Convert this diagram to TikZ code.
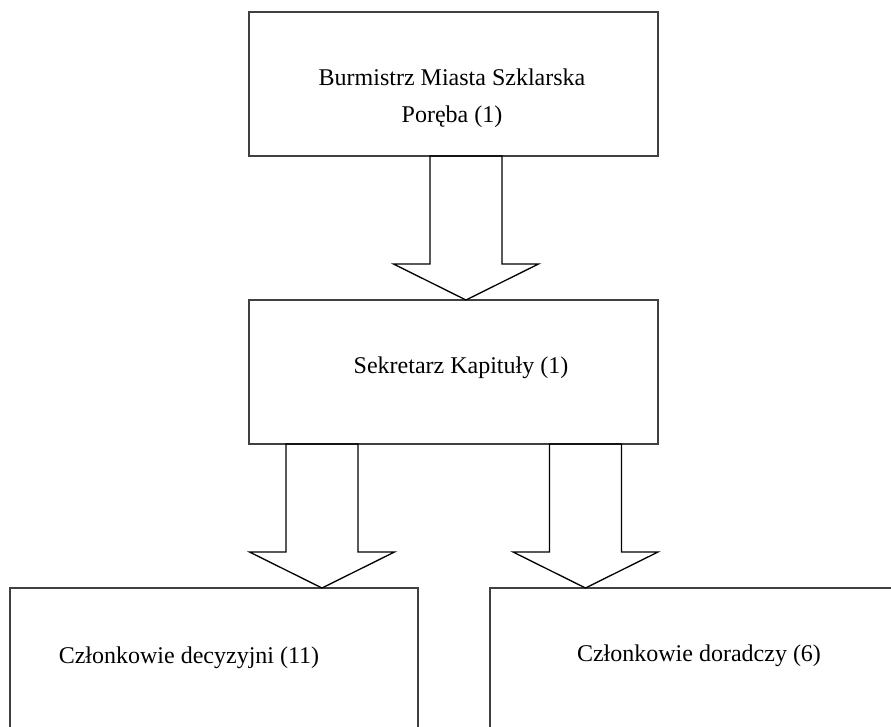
\documentclass[tikz,border=0pt]{standalone}
\usepackage{fontspec}
\setmainfont{Liberation Serif}
\usetikzlibrary{positioning, calc}
\definecolor{kapline}{HTML}{404040}
\tikzset{
  box/.style={rectangle, draw=kapline, line width=1.3pt, minimum width=409pt,
    minimum height=144pt, inner sep=0pt, outer sep=0pt},
  lowbox/.style={box, minimum width=408pt, minimum height=200pt},
  txt/.style={font=\fontsize{24}{37}\selectfont, align=center, inner sep=0pt},
  fatarr/.style={draw=black, line width=1.3pt, line join=miter, to path={
    ($(\tikztostart)+(-36,0)$) -- ($(\tikztotarget)+(-36,-36)$)
    -- ($(\tikztotarget)+(-72.5,-36)$) -- (\tikztotarget)
    -- ($(\tikztotarget)+(72.5,-36)$) -- ($(\tikztotarget)+(36,-36)$)
    -- ($(\tikztostart)+(36,0)$) -- cycle}},
}

\begin{document}
\begin{tikzpicture}[x=1pt, y=-1pt]
  \useasboundingbox (0,0) rectangle (891,727);
  \clip (0,0) rectangle (891,727);
  % boxes
  \node[box] (burm) at (453.5,84) {};
  \node[box, below=144pt of burm] (sek) {};
  \node[lowbox] (dec) at (214,688) {};
  \node[lowbox] (dor) at (694,688) {};
  % texts
  \node[txt] (burmtxt) at (452,98.5) {Burmistrz Miasta Szklarska\\Poręba (1)};
  \node[txt] (sektxt) at (461,368) {Sekretarz Kapituły (1)};
  \node[txt] (dectxt) at (189,658) {Członkowie decyzyjni (11)};
  \node[txt] (dortxt) at (699,656) {Członkowie doradczy (6)};
  % arrows
  \draw[fatarr] ([xshift=12.5pt]burm.south) to ([xshift=12.5pt]sek.north);
  \draw[fatarr] ([xshift=-131.5pt]sek.south) to ([xshift=-131.5pt]sek.south |- dec.north);
  \draw[fatarr] ([xshift=132pt]sek.south) to ([xshift=132pt]sek.south |- dor.north);
\end{tikzpicture}
\end{document}
